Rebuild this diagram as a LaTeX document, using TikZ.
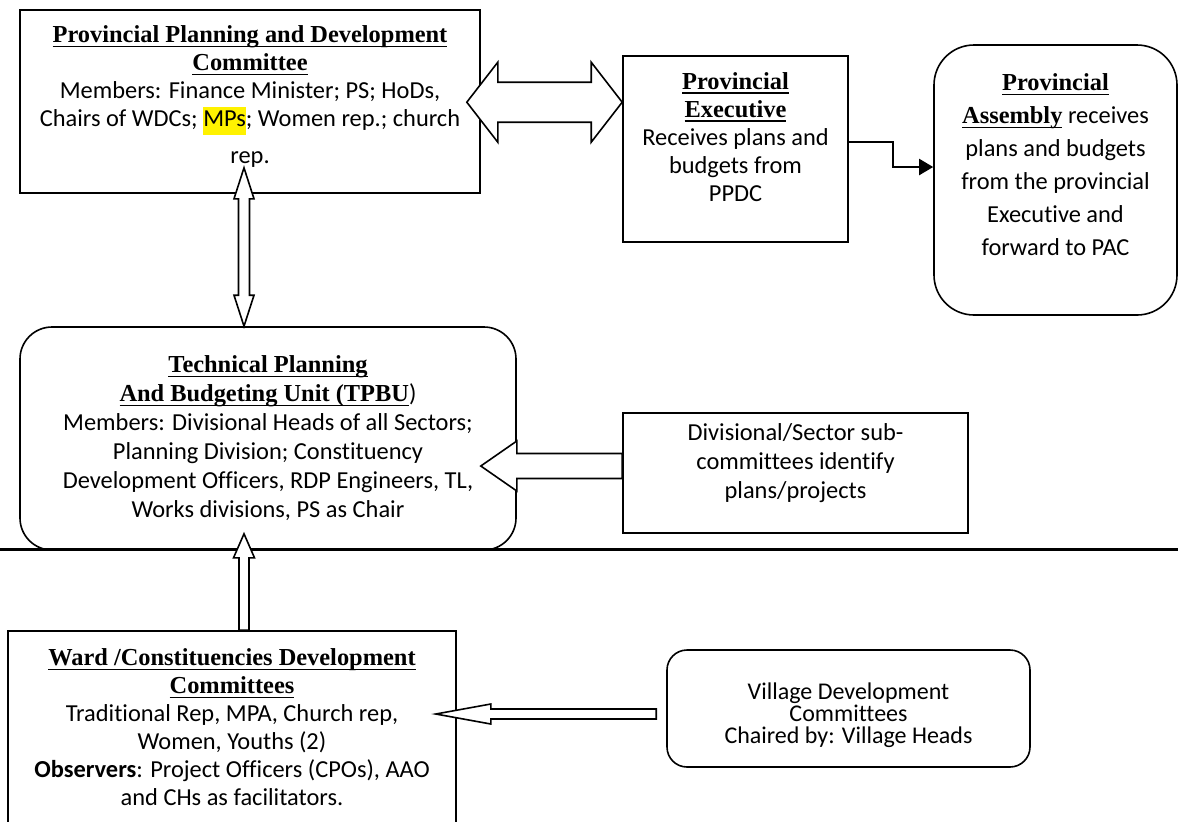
\documentclass[tikz,border=0pt]{standalone}
\usepackage{fontspec}
\setmainfont{Carlito}[Ligatures=CommonOff]
\newfontfamily\headfont{Liberation Serif}
\usepackage{xcolor}
\usepackage{tikz}
\usetikzlibrary{arrows.meta,calc}
\newcommand{\hd}[1]{{\headfont\bfseries\setbox0\hbox{#1}\rlap{\rule[-2.2pt]{\wd0}{0.7pt}}\box0}}
\setlength{\fboxsep}{0pt}

\begin{document}
\begin{tikzpicture}[x=0.5pt,y=-0.5pt,
  box/.style={draw,line width=0.8pt,align=center,inner sep=0pt},
  rbox/.style={box,rounded corners=#1},
  blk/.style={draw,line width=0.8pt,fill=white,line join=miter},
  elbow/.style={line width=1pt,-{Triangle[length=7pt,width=8pt]}}]
  \useasboundingbox (0,0) rectangle (1178,821);

  % dividing rule
  \draw[line width=1.4pt] (0,549.5) -- (1178,549.5);

  % boxes
  \node[box,minimum width=230pt,minimum height=91.5pt,font=\fontsize{12.2}{14}\selectfont] (ppdc) at (250,101.5)
    {\hd{Provincial Planning and Development}\\ \hd{Committee}\\
     Members: Finance Minister; PS; HoDs,\\
     Chairs of WDCs; \colorbox{yellow}{\strut MPs}; Women rep.; church\\[4.5pt] rep.\\[-7.5pt]\mbox{}};
  \node[box,minimum width=112.5pt,minimum height=93pt,font=\fontsize{12.2}{14}\selectfont] (pe) at (735.5,149)
    {\hd{Provincial}\\ \hd{Executive}\\ Receives plans and\\ budgets from\\ PPDC\\[-2pt]\mbox{}};
  \node[rbox=20pt,minimum width=121.5pt,minimum height=135pt,font=\fontsize{12.2}{16.5}\selectfont] (pa) at (1055.5,180)
    {\hd{Provincial}\\ \hd{Assembly} receives\\ plans and budgets\\ from the provincial\\ Executive and\\ forward to PAC\\[-1.5pt]\mbox{}};
  \node[rbox=16pt,minimum width=248pt,minimum height=111.5pt,font=\fontsize{12.2}{14.5}\selectfont] (tpbu) at (268,438.5)
    {\hd{Technical Planning}\\ \hd{And Budgeting Unit (TPBU})\\
     Members: Divisional Heads of all Sectors;\\ Planning Division; Constituency\\
     Development Officers, RDP Engineers, TL,\\ Works divisions, PS as Chair};
  \node[box,minimum width=172.5pt,minimum height=60pt,font=\fontsize{12.2}{14.5}\selectfont] (div) at (795.5,473)
    {Divisional/Sector sub-\\ committees identify\\ plans/projects\\[-2.5pt]\mbox{}};
  \node[box,minimum width=224pt,minimum height=96.5pt,font=\fontsize{12.2}{14}\selectfont] (wdc) at (232,727.5)
    {\hd{Ward /Constituencies Development}\\ \hd{Committees}\\
     Traditional Rep, MPA, Church rep,\\ Women, Youths (2)\\
     \textbf{Observers}: Project Officers (CPOs), AAO\\ and CHs as facilitators.};
  \node[rbox=10pt,minimum width=181.5pt,minimum height=58.5pt,font=\fontsize{12}{11}\selectfont] (vdc) at (848.5,708.5)
    {\mbox{}\\[3.7pt] Village Development\\ Committees\\ Chaired by: Village Heads};

  % block arrows
  \coordinate (a1) at ($(ppdc.north east)+(-14,93)$);
  \coordinate (a2) at ($(pe.north west)+(0,47)$);
  \draw[blk] (a1) -- ++(31,-40) -- ++(0,20) -- ($(a2)+(-31,-20)$) -- ++(0,-20) -- (a2)
    -- ++(-31,40) -- ++(0,-20) -- ($(a1)+(31,20)$) -- ++(0,20) -- cycle;

  \coordinate (b1) at ($(ppdc.south)+(-6,-26)$);
  \coordinate (b2) at (tpbu.north -| b1);
  \draw[blk] (b1) -- ++(10,31) -- ++(-4.5,0) -- ($(b2)+(5.5,-31)$) -- ++(4.5,0) -- (b2)
    -- ++(-10,-31) -- ++(4.5,0) -- ($(b1)+(-5.5,31)$) -- ++(-4.5,0) -- cycle;

  \coordinate (c1) at ($(div.west)+(0,-7)$);
  \coordinate (c2) at ($(c1 -| tpbu.east)+(-36,0)$);
  \draw[blk] (c1) -- ++(0,-12.5) -- ($(c2)+(36,-12.5)$) -- ++(0,-12.5) -- (c2)
    -- ++(36,25) -- ++(0,-12.5) -- ($(c1)+(0,12.5)$) -- cycle;

  \coordinate (d1) at (wdc.north -| b1);
  \coordinate (d2) at ($(tpbu.south -| b1)+(0,-17)$);
  \draw[blk] (d1) -- ++(-5,0) -- ($(d2)+(-5,24)$) -- ++(-5.5,0) -- (d2)
    -- ++(10.5,24) -- ++(-5.5,0) -- ($(d1)+(5,0)$) -- cycle;

  \coordinate (e1) at ($(vdc.west)+(-10,5.5)$);
  \coordinate (e2) at ($(e1 -| wdc.east)+(-21,0)$);
  \draw[blk] (e1) -- ++(0,-5) -- ($(e2)+(55,-5)$) -- ++(0,-5) -- (e2)
    -- ++(55,10) -- ++(0,-5) -- ($(e1)+(0,5)$) -- cycle;

  % executive to assembly
  \draw[elbow] ($(pe.east)+(0,-7)$) -- ++(44,0) |- ($(pa.west)+(0,-13)$);
\end{tikzpicture}
\end{document}
